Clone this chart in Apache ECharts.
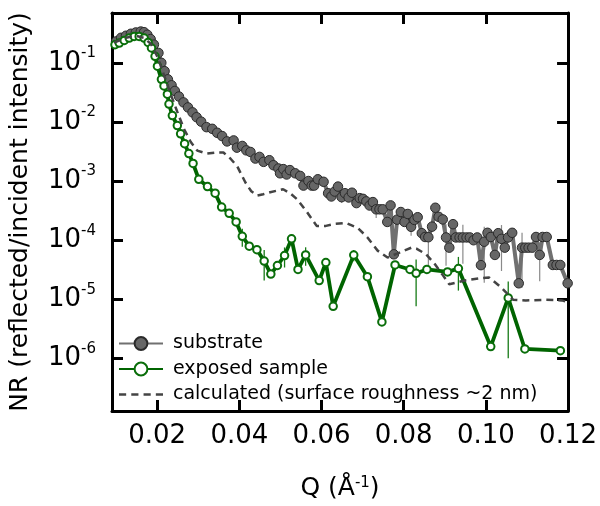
<!DOCTYPE html>
<html><head><meta charset="utf-8">
<script src="https://cdn.jsdelivr.net/npm/echarts@6/dist/echarts.min.js"></script>
<style>html,body{margin:0;padding:0;background:#fff}#c{width:600px;height:506px}</style>
</head><body><div id="c"></div>
<script>
// ---- data (Q in 1/Å, NR reflected/incident intensity) ----
const xTicks = [0.02, 0.04, 0.06, 0.08, 0.10, 0.12];
const xTickLabels = ['0.02', '0.04', '0.06', '0.08', '0.10', '0.12'];

const subQ = [
  0.0100, 0.0112, 0.0124, 0.0136, 0.0148, 0.0160, 0.0168, 0.0176, 0.0184, 0.0192,
  0.0203, 0.0210, 0.0218, 0.0226, 0.0235, 0.0243, 0.0253, 0.0264, 0.0275, 0.0286,
  0.0296, 0.0307, 0.0320, 0.0334, 0.0346, 0.0358, 0.0370, 0.0386, 0.0394, 0.0407,
  0.0417, 0.0427, 0.0439, 0.0449, 0.0459, 0.0473, 0.0483, 0.0495, 0.0499, 0.0507,
  0.0515, 0.0523, 0.0536, 0.0548, 0.0556, 0.0568, 0.0576, 0.0582, 0.0591, 0.0605,
  0.0616, 0.0624, 0.0632, 0.0640, 0.0649, 0.0657, 0.0666, 0.0674, 0.0685, 0.0693,
  0.0701, 0.0709, 0.0717, 0.0725, 0.0733, 0.0741, 0.0749, 0.0760, 0.0768, 0.0776,
  0.0784, 0.0793, 0.0802, 0.0810, 0.0818, 0.0826, 0.0834, 0.0844, 0.0852, 0.0860,
  0.0869, 0.0877, 0.0885, 0.0895, 0.0903, 0.0911, 0.0920, 0.0927, 0.0936, 0.0944,
  0.0953, 0.0961, 0.0970, 0.0979, 0.0988, 0.0996, 0.1004, 0.1012, 0.1022, 0.1030,
  0.1038, 0.1046, 0.1054, 0.1064, 0.1080, 0.1088, 0.1096, 0.1104, 0.1113, 0.1122,
  0.1131, 0.1138, 0.1148, 0.1163, 0.1172, 0.1181, 0.1199
];
const subR = [
  0.230, 0.265, 0.287, 0.310, 0.326, 0.338, 0.330, 0.298, 0.252, 0.203,
  0.147, 0.100, 0.0723, 0.0525, 0.0417, 0.0334, 0.0269, 0.0214, 0.0176, 0.0145,
  0.0120, 0.0101, 0.00815, 0.00764, 0.00655, 0.00576, 0.00468, 0.00486, 0.00367, 0.00392,
  0.00330, 0.00310, 0.00240, 0.00256, 0.00211, 0.00225, 0.00185, 0.00163, 0.00135, 0.00159,
  0.00129, 0.00153, 0.00135, 0.00122, 0.000837, 0.00100, 0.000837, 0.000837, 0.00107, 0.000970,
  0.000622, 0.000548, 0.000664, 0.000805, 0.000533, 0.000622, 0.000527, 0.000634, 0.000423, 0.000513,
  0.000499, 0.000452, 0.000385, 0.000440, 0.000332, 0.000332, 0.000332, 0.000203, 0.000387, 0.0000575,
  0.000222, 0.000299, 0.000203, 0.000277, 0.000168, 0.000220, 0.000244, 0.000131, 0.000113, 0.000112,
  0.000169, 0.000353, 0.000248, 0.000224, 0.000111, 0.0000746, 0.000186, 0.000111, 0.000111, 0.000111,
  0.000111, 0.000111, 0.0000995, 0.000111, 0.0000377, 0.0000940, 0.000133, 0.000113, 0.0000562, 0.000131,
  0.000105, 0.0000746, 0.000111, 0.000133, 0.0000186, 0.0000746, 0.0000746, 0.0000746, 0.0000746, 0.000113,
  0.0000562, 0.000113, 0.000113, 0.0000380, 0.0000380, 0.0000380, 0.0000186
];
const subErr = [
  0, 0, 0, 0, 0, 0, 0, 0, 0, 0,
  0, 0, 0, 0, 0, 0, 0, 0, 0, 0,
  0, 0, 0, 0, 0, 0, 0, 0, 0, 0,
  0, 0, 0, 0, 0, 0, 0, 0, 0, 0,
  0, 0, 0, 0, 0, 0, 0, 0, 0, 0,
  0, 0, 0, 0, 0.00011, 0, 0, 0, 0, 0,
  0, 0, 0, 0, 0.000095, 0, 0, 0, 0, 0,
  0, 0, 0, 0, 0.00005, 0, 0, 0, 0, 0.000075,
  0, 0, 0, 0, 0.000074, 0, 0, 0, 0, 0.000071,
  0, 0, 0, 0, 0, 0.000075, 0, 0, 0, 0,
  0.000075, 0, 0, 0, 0, 0.000059, 0, 0, 0, 0,
  0.000036, 0, 0, 0, 0, 0, 0
];

const expQ = [
  0.00973, 0.01077, 0.01198, 0.01319, 0.01440, 0.01561, 0.01682, 0.01779, 0.01861, 0.01948,
  0.02006, 0.02103, 0.02166, 0.02248, 0.02287, 0.02369, 0.02490, 0.02570, 0.02667, 0.02771,
  0.02873, 0.03013, 0.03224, 0.03410, 0.03568, 0.03752, 0.03921, 0.04071, 0.04241, 0.04427,
  0.04604, 0.04766, 0.04926, 0.05100, 0.05270, 0.05427, 0.05613, 0.05943, 0.06105, 0.06283,
  0.06784, 0.07116, 0.07469, 0.07789, 0.08152, 0.08302, 0.08564, 0.09067, 0.09331, 0.10118,
  0.10544, 0.10949, 0.11813
];
const expR = [
  0.203, 0.216, 0.239, 0.262, 0.279, 0.279, 0.262, 0.221, 0.178, 0.129,
  0.0877, 0.0525, 0.0406, 0.0294, 0.0200, 0.0128, 0.00867, 0.00630, 0.00428, 0.00291,
  0.00198, 0.00107, 0.000805, 0.000622, 0.000362, 0.000284, 0.000203, 0.000116, 0.0000791, 0.0000690,
  0.0000443, 0.0000266, 0.0000372, 0.0000548, 0.000105, 0.0000319, 0.0000562, 0.0000207, 0.0000418, 0.00000757,
  0.0000558, 0.0000241, 0.00000413, 0.0000380, 0.0000319, 0.0000274, 0.0000319, 0.0000290, 0.0000330, 0.00000158,
  0.0000105, 0.00000144, 0.00000135
];
const expErr = [
  0, 0, 0, 0, 0, 0, 0, 0, 0, 0,
  0, 0, 0, 0, 0, 0, 0, 0, 0, 0,
  0, 0, 0, 0, 0, 0, 0, 0.000039, 0, 0,
  0.0000236, 0, 0, 0.0000204, 0, 0, 0.0000194, 0, 0, 0,
  0.000012, 0, 0, 0, 0, 0.0000198, 0, 0, 0.000019, 0,
  0.0000095, 0, 0
];

const calcQ = [
  0.00948, 0.01239, 0.01481, 0.01675, 0.01844, 0.02014, 0.02159, 0.02329, 0.02491, 0.02651,
  0.02813, 0.02975, 0.03200, 0.03418, 0.03612, 0.03781, 0.03951, 0.04144, 0.04290, 0.04435,
  0.04580, 0.04750, 0.05065, 0.05234, 0.05404, 0.05646, 0.05881, 0.06106, 0.06324, 0.06590,
  0.06881, 0.07123, 0.07365, 0.07607, 0.07898, 0.08188, 0.08309, 0.08544, 0.08745, 0.08939,
  0.09108, 0.09302, 0.09520, 0.09835, 0.10077, 0.10368, 0.10661, 0.10973, 0.11458, 0.11845, 0.11990
];
const calcR = [
  0.219, 0.265, 0.287, 0.265, 0.210, 0.123, 0.0637, 0.0294, 0.0147, 0.00764,
  0.00462, 0.00327, 0.00291, 0.00303, 0.00303, 0.00240, 0.00176, 0.000951, 0.000671, 0.000569,
  0.000598, 0.000647, 0.000726, 0.000622, 0.000493, 0.000299, 0.000174, 0.000174, 0.000188, 0.000195,
  0.000161, 0.000110, 0.0000664, 0.0000507, 0.0000615, 0.0000746, 0.0000718, 0.0000575, 0.0000403, 0.0000263,
  0.0000179, 0.0000193, 0.0000209, 0.0000225, 0.0000234, 0.0000160, 0.00000984, 0.00000955, 0.00000977, 0.00000955, 0.00000893
];

const seriesNames = ['substrate', 'exposed sample', 'calculated (surface roughness ~2 nm)'];
const xTitle = 'Q (Å{sup|-1})';
const yTitle = 'NR (reflected/incident intensity)';

// ---- chart ----
const FONT = 'DejaVu Sans';
const chart = echarts.init(document.getElementById('c'), null, { renderer: 'canvas' });
const pairs = (q, r) => q.map((v, i) => [v, r[i]]);
const errData = (q, r, e) => q.map((v, i) => [v, r[i], e[i]]).filter(d => d[2] > 0);
const errSeries = (data, color, width) => ({
  type: 'custom', data: data, xAxisIndex: 0, yAxisIndex: 0, z: 2, clip: true, silent: true,
  encode: { x: 0, y: 1 },
  renderItem: function (params, api) {
    const q = api.value(0), r = api.value(1), d = api.value(2);
    const top = api.coord([q, r + d]);
    const bot = api.coord([q, Math.max(r - d, 1e-9)]);
    return { type: 'line', shape: { x1: top[0], y1: top[1], x2: bot[0], y2: bot[1] },
             style: { stroke: color, lineWidth: width } };
  }
});
const frame = () => ({ show: true, onZero: false, lineStyle: { color: '#000', width: 3 } });
const tick = (custom) => {
  const t = { show: true, inside: true, length: 11, lineStyle: { color: '#000', width: 3 } };
  if (custom) t.customValues = custom.slice();
  return t;
};
const yMin = 1.285e-7, yMax = 0.696;
const yFmt = v => '{b|10}{sup|' + Math.round(Math.log10(v)) + '}';

chart.setOption({
  animation: false,
  grid: { left: 111, right: 30.6, top: 13, bottom: 91 },
  legend: {
    orient: 'vertical', left: 113, top: 329, itemGap: 6.5, itemWidth: 44, itemHeight: 16,
    textStyle: { fontSize: 19, fontFamily: FONT, color: '#000', padding: [0, 0, 0, 5] },
    data: [
      { name: seriesNames[0] },
      { name: seriesNames[1] },
      { name: seriesNames[2], icon: 'path://M0,0h7v2.4h-7z M12,0h7v2.4h-7z M24,0h7v2.4h-7z M36,0h7v2.4h-7z',
        itemStyle: { color: '#444', borderWidth: 0 } }
    ]
  },
  xAxis: [
    {
      type: 'value', min: 0.009, max: 0.12, position: 'bottom',
      axisLine: frame(), axisTick: tick(xTicks),
      axisLabel: { customValues: xTicks.slice(), fontSize: 26, fontFamily: FONT, color: '#000', margin: 12,
        formatter: v => { const i = xTicks.findIndex(t => Math.abs(t - v) < 1e-9); return i >= 0 ? xTickLabels[i] : ''; } },
      splitLine: { show: false },
      name: xTitle, nameLocation: 'middle', nameGap: 65,
      nameTextStyle: { fontSize: 25, fontFamily: FONT, color: '#000',
        rich: { sup: { fontSize: 15, fontFamily: FONT, color: '#000', verticalAlign: 'top' } } }
    },
    {
      type: 'value', min: 0.009, max: 0.12, position: 'top',
      axisLine: frame(), axisTick: tick(xTicks),
      axisLabel: { show: false }, splitLine: { show: false }
    }
  ],
  yAxis: [
    {
      type: 'log', min: yMin, max: yMax, position: 'left',
      axisLine: frame(), axisTick: tick(), minorTick: { show: false },
      axisLabel: { showMinLabel: false, showMaxLabel: false, formatter: yFmt, margin: 16,
        rich: {
          b: { fontSize: 26, fontFamily: FONT, color: '#000', lineHeight: 34 },
          sup: { fontSize: 15, fontFamily: FONT, color: '#000', verticalAlign: 'top', lineHeight: 34 }
        } },
      splitLine: { show: false },
      name: yTitle, nameLocation: 'middle', nameGap: 79,
      nameTextStyle: { fontSize: 25, fontFamily: FONT, color: '#000' }
    },
    {
      type: 'log', min: yMin, max: yMax, position: 'right',
      axisLine: frame(), axisTick: tick(), minorTick: { show: false },
      axisLabel: { show: false }, splitLine: { show: false }
    }
  ],
  series: [
    errSeries(errData(subQ, subR, subErr), '#8a8a8a', 1.2),
    errSeries(errData(expQ, expR, expErr), '#167a16', 1.3),
    {
      name: seriesNames[0], type: 'line', data: pairs(subQ, subR), z: 3,
      symbol: 'circle', symbolSize: 9.5, showAllSymbol: true,
      lineStyle: { color: '#707070', width: 4 },
      itemStyle: { color: '#666666', borderColor: '#2a2a2a', borderWidth: 1 }
    },
    {
      name: seriesNames[1], type: 'line', data: pairs(expQ, expR), z: 4,
      symbol: 'emptyCircle', symbolSize: 7.5, showAllSymbol: true,
      lineStyle: { color: '#006400', width: 3.8 },
      itemStyle: { color: '#0a6e0a', borderWidth: 1.2 }
    },
    {
      name: seriesNames[2], type: 'line', data: pairs(calcQ, calcR), z: 5,
      symbol: 'none', color: '#444',
      lineStyle: { color: '#444', width: 2.5, type: [7, 5] },
      itemStyle: { color: '#444' }
    }
  ]
});
</script>
</body></html>
